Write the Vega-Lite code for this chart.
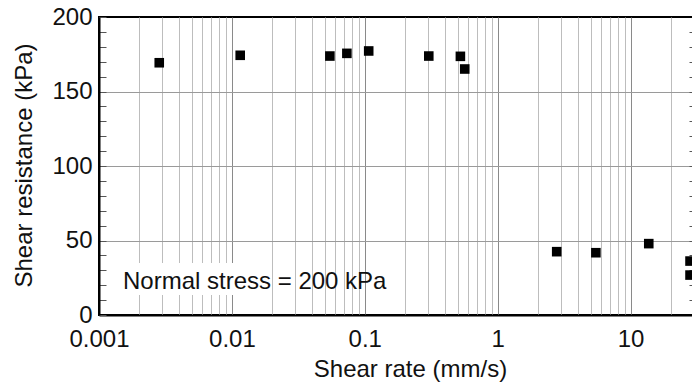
{
  "$schema": "https://vega.github.io/schema/vega-lite/v6.json",
  "width": 595,
  "height": 298,
  "autosize": {"type": "none"},
  "padding": {"left": 99, "top": 17, "right": 0, "bottom": 72},
  "background": "white",
  "config": {
    "font": "Liberation Sans",
    "view": {"stroke": "black", "strokeWidth": 2},
    "axis": {"labelFont": "Liberation Sans", "titleFont": "Liberation Sans", "labelFontSize": 24, "titleFontSize": 24, "titleFontWeight": "normal", "labelColor": "#111", "titleColor": "#111", "domainColor": "black", "domainWidth": 2}
  },
  "datasets": {
    "pts": [
      {"rate": 0.00284, "res": 169.3},
      {"rate": 0.01155, "res": 174.3},
      {"rate": 0.0546, "res": 173.8},
      {"rate": 0.0733, "res": 175.6},
      {"rate": 0.107, "res": 177.2},
      {"rate": 0.303, "res": 173.8},
      {"rate": 0.524, "res": 173.6},
      {"rate": 0.565, "res": 165.1},
      {"rate": 2.78, "res": 42.5},
      {"rate": 5.48, "res": 41.8},
      {"rate": 13.7, "res": 47.9},
      {"rate": 28, "res": 36.2},
      {"rate": 28, "res": 26.8}
    ],
    "box": [{"x1": 0.00121, "x2": 0.0186, "y1": 13.4, "y2": 34.9}],
    "note": [{"x": 0.001516, "y": 17.2, "label": "Normal stress = 200 kPa"}]
  },
  "resolve": {"axis": {"x": "independent", "y": "independent"}},
  "layer": [
    {
      "data": {"name": "pts"},
      "mark": {"type": "point", "opacity": 0},
      "encoding": {
        "x": {
          "field": "rate", "type": "quantitative",
          "scale": {"type": "log", "domain": [0.001, 30], "nice": false},
          "axis": {
            "title": "Shear rate (mm/s)",
            "values": [0.001,0.002,0.003,0.004,0.005,0.006,0.007,0.008,0.009,0.01,0.02,0.03,0.04,0.05,0.06,0.07,0.08,0.09,0.1,0.2,0.3,0.4,0.5,0.6,0.7,0.8,0.9,1,2,3,4,5,6,7,8,9,10,20,30],
            "format": "~g",
            "labelExpr": "abs(log(datum.value)/LN10 - round(log(datum.value)/LN10)) < 1e-6 ? datum.label : ''",
            "labelFlush": false,
            "labelOverlap": false,
            "ticks": false,
            "labelPadding": 12,
            "grid": true,
            "gridColor": {"condition": {"test": "abs(log(datum.value)/LN10 - round(log(datum.value)/LN10)) < 1e-6", "value": "#8a8a8a"}, "value": "#bdbdbd"},
            "gridWidth": 1,
            "titleX": 311,
            "titleY": 61,
            "titleBaseline": "alphabetic",
            "titleAlign": "center",
            "titleAnchor": null
          }
        },
        "y": {
          "field": "res", "type": "quantitative",
          "scale": {"domain": [0, 200], "nice": false},
          "axis": {
            "title": "Shear resistance (kPa)",
            "values": [0,10,20,30,40,50,60,70,80,90,100,110,120,130,140,150,160,170,180,190,200],
            "labelExpr": "datum.value % 50 === 0 ? datum.label : ''",
            "labelOverlap": false,
            "labelFlush": false,
            "ticks": true,
            "tickSize": -7,
            "tickColor": "#555",
            "labelPadding": 14,
            "grid": true,
            "gridColor": "#9a9a9a",
            "gridOpacity": {"condition": {"test": "datum.value % 50 === 0 && datum.value > 0 && datum.value < 200", "value": 1}, "value": 0},
            "titleX": -68,
            "titleY": 148,
            "titleAngle": -90,
            "titleBaseline": "alphabetic",
            "titleAlign": "center",
            "titleAnchor": null
          }
        }
      }
    },
    {
      "data": {"name": "pts"},
      "mark": {"type": "point", "opacity": 0},
      "encoding": {
        "x": {"field": "rate", "type": "quantitative", "axis": null},
        "y": {
          "field": "res", "type": "quantitative",
          "axis": {
            "orient": "right", "title": null, "labels": false, "grid": false, "domain": false,
            "values": [10,20,30,40,50,60,70,80,90,100,110,120,130,140,150,160,170,180,190],
            "tickSize": -5, "tickColor": "#555"
          }
        }
      }
    },
    {
      "data": {"name": "box"},
      "mark": {"type": "rect", "color": "white"},
      "encoding": {
        "x": {"field": "x1", "type": "quantitative", "axis": null},
        "x2": {"field": "x2"},
        "y": {"field": "y1", "type": "quantitative", "axis": null},
        "y2": {"field": "y2"}
      }
    },
    {
      "data": {"name": "note"},
      "mark": {"type": "text", "align": "left", "baseline": "alphabetic", "fontSize": 24, "font": "Liberation Sans", "color": "#111"},
      "encoding": {
        "x": {"field": "x", "type": "quantitative", "axis": null},
        "y": {"field": "y", "type": "quantitative", "axis": null},
        "text": {"field": "label"}
      }
    },
    {
      "data": {"name": "pts"},
      "mark": {"type": "point", "shape": "square", "filled": true, "color": "black", "size": 92, "opacity": 1},
      "encoding": {
        "x": {"field": "rate", "type": "quantitative", "axis": null},
        "y": {"field": "res", "type": "quantitative", "axis": null}
      }
    }
  ]
}
